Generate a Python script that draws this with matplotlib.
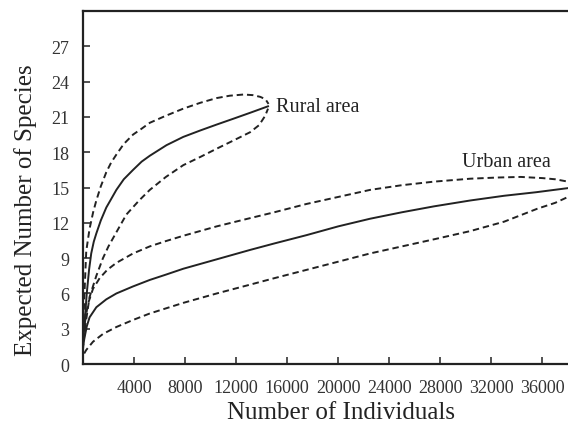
import matplotlib
matplotlib.use('Agg')
import matplotlib.pyplot as plt

# rarefaction curves (solid = mean, dashed = 95% bounds)
rural_x = [0, 130, 300, 480, 650, 850, 1050, 1400, 1830, 2200, 2620, 3200, 3930,
           4600, 5240, 6550, 7860, 9200, 10480, 11800, 13100, 14500]
rural_y = [1.5, 3.5, 6.0, 8.0, 9.4, 10.4, 11.1, 12.2, 13.3, 14.0, 14.8, 15.7,
           16.5, 17.2, 17.7, 18.6, 19.3, 19.85, 20.35, 20.85, 21.35, 21.9]
rural_up_x = [0, 100, 260, 520, 800, 1050, 1400, 1830, 2200, 2620, 3200, 3930,
              4600, 5240, 6500, 7860, 9200, 10480, 11500, 12580, 13300, 13900,
              14300, 14540]
rural_up_y = [2.0, 5.5, 9.6, 11.5, 12.9, 13.9, 15.1, 16.3, 17.1, 17.8, 18.7, 19.5,
              20.0, 20.5, 21.1, 21.7, 22.2, 22.6, 22.8, 22.9, 22.85, 22.7,
              22.5, 22.1]
rural_lo_x = [0, 150, 520, 1050, 1570, 2000, 2620, 3400, 4400, 5240, 6500, 7860,
              9200, 10480, 11800, 13100, 13800, 14280, 14500]
rural_lo_y = [1.2, 3.0, 5.7, 7.5, 9.0, 10.0, 11.2, 12.7, 13.9, 14.8, 15.9, 16.9,
              17.6, 18.3, 19.0, 19.7, 20.3, 21.1, 21.7]

urban_x = [0, 130, 300, 520, 1050, 1830, 2620, 3930, 5240, 6500, 7860, 10480,
           13100, 15000, 17500, 20000, 22500, 25000, 27500, 30350, 33000, 35500,
           38000]
urban_y = [1.5, 2.27, 3.2, 3.97, 4.83, 5.5, 6.0, 6.6, 7.15, 7.6, 8.1, 8.9,
           9.7, 10.25, 10.95, 11.7, 12.35, 12.9, 13.4, 13.9, 14.3, 14.6, 14.95]
urban_up_x = [150, 390, 790, 1310, 1900, 2620, 3930, 5240, 6500, 7860, 10480,
              13100, 15000, 17500, 20000, 22500, 25000, 27500, 30350, 32500,
              34300, 36000, 37000, 38000]
urban_up_y = [3.5, 5.1, 6.4, 7.3, 8.0, 8.6, 9.4, 10.0, 10.45, 10.9, 11.7,
              12.4, 12.9, 13.6, 14.2, 14.8, 15.2, 15.5, 15.75, 15.85,
              15.9, 15.8, 15.7, 15.5]
urban_lo_x = [100, 260, 790, 1570, 2620, 3930, 5240, 7860, 10480, 13100, 15000,
              17500, 20000, 22500, 25000, 27500, 30350, 33000, 35600, 37000, 38000]
urban_lo_y = [0.9, 1.2, 1.9, 2.56, 3.15, 3.75, 4.3, 5.2, 6.0, 6.75, 7.3,
              8.0, 8.7, 9.4, 10.0, 10.6, 11.3, 12.1, 13.2, 13.7, 14.2]

xticks = list(range(4000, 40000, 4000))
yticks = list(range(0, 30, 3))

plt.rcParams['font.family'] = ['Liberation Serif', 'DejaVu Serif']

fig = plt.figure(figsize=(5.68, 4.27), dpi=100)
ax = fig.add_axes([0.146, 0.145, 0.854, 0.827])

col = '#222222'
dash = (0, (3.3, 2.0))
ax.plot(rural_x, rural_y, color=col, lw=1.4)
ax.plot(rural_up_x, rural_up_y, color=col, lw=1.4, ls=dash)
ax.plot(rural_lo_x, rural_lo_y, color=col, lw=1.4, ls=dash)
ax.plot(urban_x, urban_y, color=col, lw=1.4)
ax.plot(urban_up_x, urban_up_y, color=col, lw=1.4, ls=dash)
ax.plot(urban_lo_x, urban_lo_y, color=col, lw=1.4, ls=dash)

ax.text(15140, 21.5, 'Rural area', fontsize=14.5, va='baseline', color=col)
ax.text(29700, 16.8, 'Urban area', fontsize=14.5, va='baseline', color=col)

ax.set_xlim(0, 38000)
ax.set_ylim(0, 30)
ax.set_xticks(xticks)
ax.set_yticks(yticks)
ax.tick_params(direction='in', length=5, width=1.2, colors='#333333',
               labelsize=13, pad=11)
ax.tick_params(axis='y', pad=10)
for s in ['left', 'bottom', 'top']:
    ax.spines[s].set_linewidth(1.6)
    ax.spines[s].set_color('#222222')
ax.spines['right'].set_visible(False)

ax.set_xlabel('Number of Individuals', fontsize=18, color=col, labelpad=3,
              x=0.533)
ax.set_ylabel('Expected Number of Species', fontsize=18, color=col, labelpad=10,
              y=0.44)

fig.savefig('out.png', dpi=100)
